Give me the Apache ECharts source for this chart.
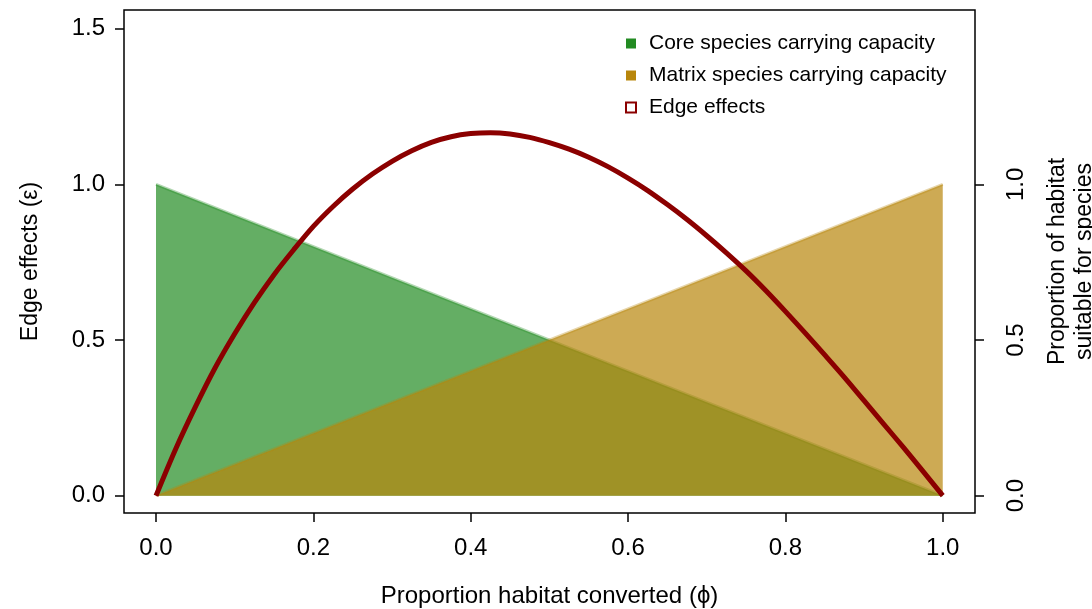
<!DOCTYPE html>
<html>
<head>
<meta charset="utf-8">
<script src="https://cdn.jsdelivr.net/npm/echarts@6/dist/echarts.min.js"></script>
<style>
  html, body { margin: 0; padding: 0; background: #fff; }
  #main { width: 1092px; height: 609px; }
</style>
</head>
<body>
<div id="main"></div>
<script>
// proportion habitat converted (phi)
var phi = [0, 0.025, 0.05, 0.075, 0.1, 0.125, 0.15, 0.175, 0.2, 0.225,
           0.25, 0.275, 0.3, 0.325, 0.35, 0.375, 0.4, 0.425, 0.45, 0.475,
           0.5, 0.525, 0.55, 0.575, 0.6, 0.625, 0.65, 0.675, 0.7, 0.725,
           0.75, 0.775, 0.8, 0.825, 0.85, 0.875, 0.9, 0.925, 0.95, 0.975, 1.0];
// edge effects (epsilon)
var edge = [0, 0.15, 0.285, 0.41, 0.52, 0.62, 0.71, 0.79, 0.865, 0.929,
            0.985, 1.033, 1.074, 1.108, 1.135, 1.153, 1.163, 1.166, 1.162, 1.151,
            1.134, 1.113, 1.087, 1.056, 1.02, 0.98, 0.935, 0.887, 0.835, 0.78,
            0.722, 0.659, 0.592, 0.523, 0.452, 0.38, 0.305, 0.23, 0.155, 0.078, 0];
// carrying capacity triangles
var coreX = [0, 1], coreY = [1, 0];
var matrixX = [0, 1], matrixY = [0, 1];
var xTicks = [0, 0.2, 0.4, 0.6, 0.8, 1.0];
var yTicksLeft = [0, 0.5, 1.0, 1.5];
var yTicksRight = [0, 0.5, 1.0];

function pairs(xs, ys) {
    var out = [];
    for (var i = 0; i < xs.length; i++) out.push([xs[i], ys[i]]);
    return out;
}

var chart = echarts.init(document.getElementById('main'));
var font = 'Liberation Sans, Arial, sans-serif';
var tickStyle = { color: '#000', width: 1.5 };
chart.setOption({
    animation: false,
    textStyle: { fontFamily: font, color: '#000' },
    grid: {
        left: 124, right: 117, top: 10, bottom: 96,
        containLabel: false, outerBoundsMode: 'none',
        show: true, borderColor: '#000', borderWidth: 1.5
    },
    legend: {
        orient: 'vertical',
        left: 620, top: 28,
        itemWidth: 10, itemHeight: 10, itemGap: 11,
        textStyle: { fontSize: 21, color: '#000', fontFamily: font, padding: [0, 0, 0, 8] },
        data: [
            { name: 'Core species carrying capacity', icon: 'rect', itemStyle: { color: '#228B22', opacity: 1 } },
            { name: 'Matrix species carrying capacity', icon: 'rect', itemStyle: { color: '#B8860B', opacity: 1 } },
            { name: 'Edge effects', icon: 'rect', itemStyle: { color: '#fff', borderColor: '#8B0000', borderWidth: 2 } }
        ]
    },
    xAxis: {
        type: 'value', min: -0.0407, max: 1.041,
        splitLine: { show: false },
        axisLine: { show: false, onZero: false },
        axisTick: { show: true, length: 9, lineStyle: tickStyle, customValues: xTicks },
        axisLabel: {
            fontSize: 24, color: '#000', margin: 23, customValues: xTicks,
            formatter: function (v) { return v.toFixed(1); }
        },
        name: 'Proportion habitat converted (ϕ)',
        nameLocation: 'middle', nameGap: 71,
        nameTextStyle: { fontSize: 24, color: '#000' }
    },
    yAxis: [{
        type: 'value', min: -0.0556, max: 1.56, position: 'left',
        splitLine: { show: false },
        axisLine: { show: false, onZero: false },
        axisTick: { show: true, length: 9, lineStyle: tickStyle, customValues: yTicksLeft },
        axisLabel: {
            fontSize: 24, color: '#000', margin: 19, customValues: yTicksLeft,
            formatter: function (v) { return v.toFixed(1); }
        },
        name: 'Edge effects (ε)',
        nameLocation: 'middle', nameGap: 82, nameRotate: 90,
        nameTextStyle: { fontSize: 23, color: '#000' }
    }, {
        type: 'value', min: -0.0556, max: 1.56, position: 'right',
        splitLine: { show: false },
        axisLine: { show: false, onZero: false },
        axisTick: { show: true, length: 9, lineStyle: tickStyle, customValues: yTicksRight },
        axisLabel: {
            fontSize: 24, color: '#000', margin: 29, rotate: 90, customValues: yTicksRight,
            formatter: function (v) { return v.toFixed(1); }
        },
        name: 'Proportion of habitat\nsuitable for species',
        nameLocation: 'middle', nameGap: 69, nameRotate: 90,
        nameTextStyle: { fontSize: 23, color: '#000', lineHeight: 27 }
    }],
    series: [{
        name: 'Core species carrying capacity',
        type: 'line',
        data: pairs(coreX, coreY),
        showSymbol: false,
        lineStyle: { color: 'rgba(34,139,34,0.35)', width: 3 },
        itemStyle: { color: '#228B22' },
        areaStyle: { color: 'rgba(34,139,34,0.7)', opacity: 1 },
        z: 1
    }, {
        name: 'Matrix species carrying capacity',
        type: 'line',
        data: pairs(matrixX, matrixY),
        showSymbol: false,
        lineStyle: { color: 'rgba(184,134,11,0.35)', width: 3 },
        itemStyle: { color: '#B8860B' },
        areaStyle: { color: 'rgba(184,134,11,0.7)', opacity: 1 },
        z: 2
    }, {
        name: 'Edge effects',
        type: 'line',
        data: pairs(phi, edge),
        smooth: 0.3,
        showSymbol: false,
        lineStyle: { color: '#8B0000', width: 5 },
        itemStyle: { color: '#8B0000' },
        z: 3
    }]
});
</script>
</body>
</html>
